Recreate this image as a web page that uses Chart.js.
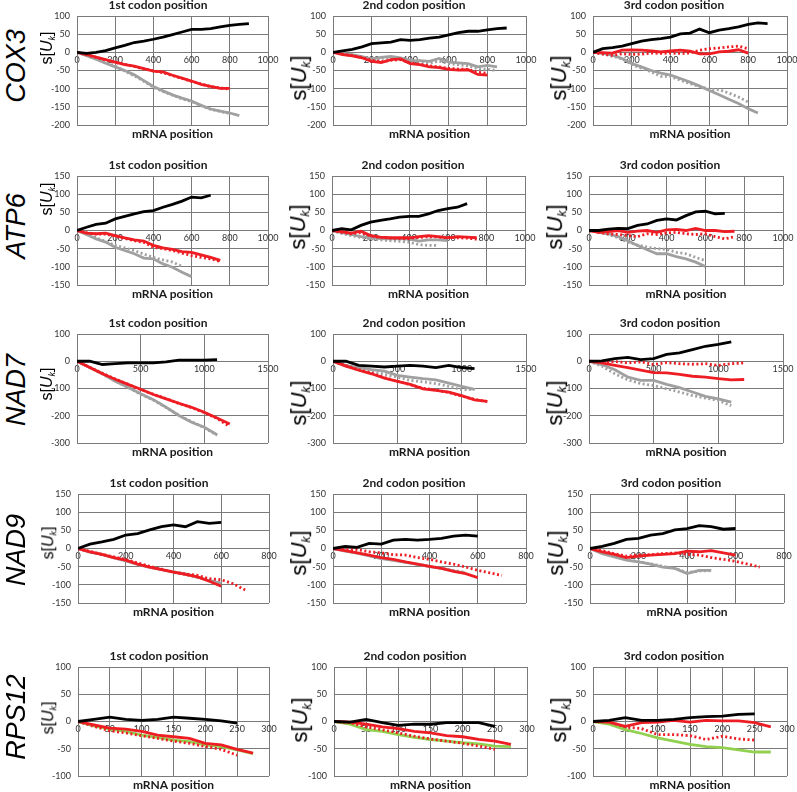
<!DOCTYPE html>
<html>
<head>
<meta charset="utf-8">
<script src="https://cdn.jsdelivr.net/npm/chart.js@4.4.1/dist/chart.umd.min.js"></script>
<style>
  body { margin: 0; background: #fff; width: 797px; height: 792px; position: relative; overflow: hidden; }
  canvas { position: absolute; }
  .gene { position: absolute; font-family: "Liberation Sans", sans-serif; font-style: italic; font-size: 27px; color: #000;
          transform: translate(-50%, -50%) rotate(-90deg); white-space: nowrap; }
  .yt { position: absolute; font-family: "Liberation Sans", sans-serif; color: #000;
        transform: translate(-50%, -50%) rotate(-90deg); white-space: nowrap; line-height: 1; }
  .yt i { font-style: italic; }
  .yt sub { font-size: 55%; font-style: italic; vertical-align: -0.3em; }
  .ttl { position: absolute; font-family: Lato, "Liberation Sans", sans-serif; font-weight: bold; font-size: 12px; color: #1a1a1a;
         transform: translate(-50%, -50%); white-space: nowrap; line-height: 1; }
</style>
</head>
<body>
<script>
// ---- labels ----
const genes = ['COX3', 'ATP6', 'NAD7', 'NAD9', 'RPS12'];
const codonTitles = ['1st codon position', '2nd codon position', '3rd codon position'];
const xLabel = 'mRNA position';

// ---- axis ranges per gene (x max / step, y min / max / step) ----
const xMax = [1000, 1000, 1500, 800, 300];
const xStep = [200, 200, 500, 200, 50];
const yMin = [-200, -150, -300, -150, -100];
const yMax = [100, 150, 100, 150, 100];
const yStep = [50, 50, 100, 50, 50];

// ---- COX3 ----
const cox3X = [0, 50, 100, 150, 200, 250, 300, 350, 400, 450, 500, 550, 600, 650, 700, 750, 800, 850, 900];
const cox3_1_black = [0, -3, 0, 5, 12, 19, 27, 31, 36, 42, 49, 56, 63, 63, 65, 70, 74, 77, 79];
const cox3_1_red = [0, -6, -13, -20, -27, -34, -38, -45, -52, -54, -63, -71, -79, -88, -94, -99, -99];
const cox3_1_redDot = [0, -7, -14, -21, -28, -33, -39, -46, -51, -56, -64, -72, -80, -87, -95, -98, -101];
const cox3_1_gray = [0, -9, -19, -30, -40, -50, -62, -78, -94, -106, -117, -126, -134, -146, -156, -162, -167, -174];
const cox3_1_grayDot = [0, -8, -18, -28, -38, -52, -65, -80, -96, -108, -118, -128, -136, -147, -157, -163, -168];
const cox3_2_black = [0, 4, 8, 15, 24, 26, 28, 35, 33, 35, 39, 42, 48, 54, 58, 58, 62, 65, 67];
const cox3_2_red = [0, -6, -10, -15, -25, -28, -20, -18, -31, -34, -40, -42, -47, -49, -48, -61, -63];
const cox3_2_redDot = [0, -5, -9, -14, -22, -26, -22, -20, -29, -33, -37, -40, -44, -46, -47, -55, -58];
const cox3_2_gray = [0, -3, -6, -12, -18, -14, -11, -15, -22, -23, -25, -17, -27, -29, -31, -40, -36, -40];
const cox3_2_grayDot = [0, -4, -8, -14, -20, -17, -14, -18, -24, -27, -30, -24, -31, -34, -37, -45, -47, -50];
const cox3_3_black = [0, 10, 13, 17, 24, 31, 35, 38, 42, 51, 53, 64, 54, 61, 65, 70, 77, 81, 79];
const cox3_3_red = [0, -1, -2, 6, 7, 6, 4, 1, 4, 6, 3, -4, -4, 1, 3, 7, -2];
const cox3_3_redDot = [0, -5, -8, -4, -6, -5, -2, -3, -2, -3, -2, 6, 10, 12, 15, 17, 10];
const cox3_3_gray = [0, -3, -8, -17, -31, -40, -50, -57, -63, -72, -82, -93, -105, -117, -129, -141, -155, -167];
const cox3_3_grayDot = [0, -4, -11, -18, -33, -44, -54, -66, -66, -77, -86, -94, -102, -103, -112, -123, -137];

// ---- ATP6 ----
const atp6X = [0, 50, 100, 150, 200, 250, 300, 350, 400, 450, 500, 550, 600, 650, 700, 750];
const atp6_1_black = [0, 9, 17, 20, 32, 39, 46, 52, 55, 64, 72, 81, 92, 90, 97];
const atp6_1_red = [0, -7, -9, -7, -14, -20, -26, -29, -41, -48, -52, -58, -60, -67, -74, -82];
const atp6_1_redDot = [0, -6, -10, -10, -16, -22, -28, -33, -46, -50, -55, -62, -69, -74, -78, -85];
const atp6_1_gray = [0, -11, -23, -32, -46, -55, -64, -76, -78, -92, -101, -115, -127];
const atp6_1_grayDot = [0, -10, -20, -30, -41, -48, -55, -65, -74, -81, -87, -99];
const atp6_2_black = [0, 5, 2, 14, 23, 28, 32, 37, 39, 39, 46, 55, 60, 64, 74];
const atp6_2_red = [0, -3, -7, -2, -14, -18, -20, -20, -20, -17, -14, -17, -20, -17, -18, -20];
const atp6_2_redDot = [0, -5, -9, -6, -15, -19, -21, -22, -22, -19, -17, -18, -19, -20, -21, -24];
const atp6_2_gray = [0, -6, -11, -17, -20, -22, -23, -23, -23, -29, -26, -26, -28];
const atp6_2_grayDot = [0, -8, -14, -19, -23, -26, -28, -30, -32, -39, -41, -41];
const atp6_3_black = [0, 0, 4, 6, 5, 14, 18, 28, 32, 29, 41, 51, 53, 46, 47];
const atp6_3_red = [0, -5, -3, 0, -5, -2, 0, -5, 2, 3, 0, 6, 0, 0, -3, -2];
const atp6_3_redDot = [0, -5, -9, -11, -14, -17, -9, -11, -7, -5, -9, -11, -9, -17, -23, -17];
const atp6_3_gray = [0, -5, -9, -17, -28, -41, -53, -64, -64, -72, -78, -87, -99];
const atp6_3_grayDot = [0, -5, -11, -20, -32, -40, -46, -50, -52, -60, -64, -74, -83];

// ---- NAD7 ----
const nad7X = [0, 100, 200, 300, 400, 500, 600, 700, 800, 900, 1000, 1100, 1200];
const nad7_1_black = [0, 0, -12, -9, -6, -6, -6, -2, 4, 4, 4, 6];
const nad7_1_red = [0, -23, -46, -66, -85, -103, -122, -138, -154, -169, -187, -208, -230];
const nad7_1_redDot = [0, -22, -44, -65, -84, -104, -121, -137, -155, -170, -189, -210, -240];
const nad7_1_gray = [0, -23, -46, -73, -95, -119, -141, -169, -199, -224, -242, -270];
const nad7_1_grayDot = [0, -22, -47, -72, -96, -121, -143, -170, -198, -222, -244, -272];
const nad7_2_black = [0, 0, -15, -18, -21, -18, -15, -18, -23, -15, -23, -27];
const nad7_2_red = [0, -18, -33, -46, -62, -74, -85, -101, -107, -113, -126, -142, -147];
const nad7_2_redDot = [0, -16, -31, -44, -60, -73, -86, -99, -106, -115, -128, -140, -148];
const nad7_2_gray = [0, -15, -23, -31, -36, -52, -58, -64, -68, -80, -92, -103];
const nad7_2_grayDot = [0, -18, -27, -36, -48, -58, -70, -76, -82, -92, -105, -103];
const nad7_3_black = [0, 1, 10, 14, 6, 10, 25, 31, 43, 55, 62, 71];
const nad7_3_red = [0, -6, -15, -23, -33, -42, -43, -48, -55, -58, -64, -68, -67];
const nad7_3_redDot = [0, -2, -1, -6, -2, -12, -5, -9, -11, -9, -15, -9, -6];
const nad7_3_gray = [0, -12, -31, -58, -70, -70, -85, -97, -113, -129, -138, -150];
const nad7_3_grayDot = [0, -18, -46, -68, -82, -89, -101, -113, -126, -135, -144, -163];

// ---- NAD9 ----
const nad9X = [0, 50, 100, 150, 200, 250, 300, 350, 400, 450, 500, 550, 600, 650, 700];
const nad9_1_black = [0, 12, 18, 25, 37, 41, 51, 60, 65, 60, 74, 69, 72];
const nad9_1_red = [0, -9, -16, -25, -32, -43, -51, -58, -65, -71, -78, -90, -104];
const nad9_1_redDot = [0, -8, -16, -23, -30, -40, -49, -57, -65, -70, -74, -83, -86, -97, -114];
const nad9_1_gray = [0, -10, -16, -26, -34, -44, -52, -58, -64, -70, -78, -88, -96];
const nad9_1_grayDot = [0, -9, -17, -25, -33, -42, -50, -57, -66, -72, -80, -86, -95];
const nad9_2_black = [0, 6, 3, 14, 12, 23, 25, 23, 25, 28, 34, 37, 34];
const nad9_2_red = [0, -6, -12, -18, -25, -30, -37, -43, -49, -55, -63, -69, -80];
const nad9_2_redDot = [0, -3, -3, -9, -12, -17, -18, -25, -30, -37, -43, -51, -60, -67, -74];
const nad9_2_gray = [0, -7, -13, -20, -28, -33, -38, -44, -50, -55, -62, -68];
const nad9_2_grayDot = [0, -6, -12, -19, -27, -32, -37, -43, -49, -54, -60, -66];
const nad9_3_black = [0, 6, 14, 25, 28, 37, 41, 51, 55, 63, 60, 53, 55];
const nad9_3_red = [0, -9, -16, -25, -21, -18, -16, -14, -7, -9, -6, -12, -18];
const nad9_3_redDot = [0, -6, -14, -21, -18, -17, -14, -12, -16, -18, -25, -30, -35, -43, -51];
const nad9_3_gray = [0, -14, -23, -32, -37, -43, -51, -55, -69, -60, -60];
const nad9_3_grayDot = [0, -12, -21, -30, -36, -42, -49, -54, -66, -62, -61];

// ---- RPS12 ----
const rps12X = [0, 25, 50, 75, 100, 125, 150, 175, 200, 225, 250, 275];
const rps12_1_black = [0, 4, 8, 4, 2, 4, 8, 6, 4, 1, -3];
const rps12_1_red = [0, -6, -12, -14, -18, -25, -28, -31, -40, -43, -51, -58];
const rps12_1_redDot = [0, -9, -17, -21, -26, -31, -36, -40, -46, -51, -62];
const rps12_1_green = [0, -8, -14, -18, -25, -29, -34, -37, -43, -46, -52, -59];
const rps12_2_black = [0, -1, 4, -2, -7, -5, -5, -2, -2, -2, -9];
const rps12_2_red = [0, -1, -5, -10, -13, -18, -21, -26, -28, -33, -36, -42];
const rps12_2_redDot = [0, -2, -10, -15, -21, -27, -32, -36, -40, -45, -51];
const rps12_2_green = [0, -5, -15, -18, -24, -29, -33, -36, -39, -41, -45, -46];
const rps12_3_black = [0, 2, 7, 2, 2, 4, 7, 9, 10, 13, 14];
const rps12_3_red = [0, -1, -9, -2, -1, 2, -1, 2, 1, 1, -2, -10];
const rps12_3_redDot = [0, -1, -10, -13, -24, -24, -26, -33, -27, -32, -34];
const rps12_3_green = [0, -5, -15, -22, -30, -36, -42, -46, -48, -52, -56, -56];

// panels: [gene row][codon column]
const panels = [
  [
    { xs: cox3X, black: cox3_1_black, red: cox3_1_red, redDot: cox3_1_redDot, gray: cox3_1_gray, grayDot: cox3_1_grayDot },
    { xs: cox3X, black: cox3_2_black, red: cox3_2_red, redDot: cox3_2_redDot, gray: cox3_2_gray, grayDot: cox3_2_grayDot },
    { xs: cox3X, black: cox3_3_black, red: cox3_3_red, redDot: cox3_3_redDot, gray: cox3_3_gray, grayDot: cox3_3_grayDot }
  ],
  [
    { xs: atp6X, black: atp6_1_black, red: atp6_1_red, redDot: atp6_1_redDot, gray: atp6_1_gray, grayDot: atp6_1_grayDot },
    { xs: atp6X, black: atp6_2_black, red: atp6_2_red, redDot: atp6_2_redDot, gray: atp6_2_gray, grayDot: atp6_2_grayDot },
    { xs: atp6X, black: atp6_3_black, red: atp6_3_red, redDot: atp6_3_redDot, gray: atp6_3_gray, grayDot: atp6_3_grayDot }
  ],
  [
    { xs: nad7X, black: nad7_1_black, red: nad7_1_red, redDot: nad7_1_redDot, gray: nad7_1_gray, grayDot: nad7_1_grayDot },
    { xs: nad7X, black: nad7_2_black, red: nad7_2_red, redDot: nad7_2_redDot, gray: nad7_2_gray, grayDot: nad7_2_grayDot },
    { xs: nad7X, black: nad7_3_black, red: nad7_3_red, redDot: nad7_3_redDot, gray: nad7_3_gray, grayDot: nad7_3_grayDot }
  ],
  [
    { xs: nad9X, black: nad9_1_black, red: nad9_1_red, redDot: nad9_1_redDot, gray: nad9_1_gray, grayDot: nad9_1_grayDot },
    { xs: nad9X, black: nad9_2_black, red: nad9_2_red, redDot: nad9_2_redDot, gray: nad9_2_gray, grayDot: nad9_2_grayDot },
    { xs: nad9X, black: nad9_3_black, red: nad9_3_red, redDot: nad9_3_redDot, gray: nad9_3_gray, grayDot: nad9_3_grayDot }
  ],
  [
    { xs: rps12X, black: rps12_1_black, red: rps12_1_red, redDot: rps12_1_redDot, green: rps12_1_green },
    { xs: rps12X, black: rps12_2_black, red: rps12_2_red, redDot: rps12_2_redDot, green: rps12_2_green },
    { xs: rps12X, black: rps12_3_black, red: rps12_3_red, redDot: rps12_3_redDot, green: rps12_3_green }
  ]
];

// ---- layout (pixels) ----
const plotLeft = [[77, 333, 593], [77, 332, 589], [77, 333, 589], [78, 333, 590], [78, 334, 593]];
const plotWidth = [191, 193, 194];
const plotTop = [16, 176, 334, 494, 667];
const plotHeight = 109;
const axisW = 40;      // room for y tick labels
const padV = 13;       // >= half tick label + tick padding, so chart area starts exactly here
const padRight = 14;
const ytOffset = [[32, 62, 62], [23, 51, 51], [50, 69, 69], [49, 59, 59], [51, 53, 53]];
const geneCenterY = [66, 226, 390, 550, 717];

const GRID = '#7a7a7a';
const tickFont = { family: 'Lato, "Liberation Sans", sans-serif', size: 9 };

function pts(xs, ys) {
  return ys.map((y, i) => ({ x: xs[i], y: y }));
}

function line(data, color, dashed) {
  return {
    data: data,
    borderColor: color,
    backgroundColor: color,
    borderWidth: 2.8,
    borderDash: dashed ? [2, 2.5] : [],
    pointRadius: 0,
    tension: 0,
    fill: false
  };
}

function addText(cls, html, x, y, size) {
  const d = document.createElement('div');
  d.className = cls;
  d.innerHTML = html;
  d.style.left = x + 'px';
  d.style.top = y + 'px';
  if (size) d.style.fontSize = size + 'px';
  document.body.appendChild(d);
}

genes.forEach(function (gene, r) {
  addText('gene', gene, 16, geneCenterY[r]);

  for (let c = 0; c < 3; c++) {
    const p = panels[r][c];
    const left = plotLeft[r][c];
    const pw = plotWidth[c];

    const cv = document.createElement('canvas');
    cv.width = axisW + pw + padRight;
    cv.height = padV + plotHeight + padV;
    cv.style.left = (left - axisW) + 'px';
    cv.style.top = (plotTop[r] - padV) + 'px';
    document.body.appendChild(cv);

    addText('ttl', codonTitles[c], left + 81, plotTop[r] - 11);
    addText('ttl', xLabel, left + pw / 2, plotTop[r] + plotHeight + 9);
    addText('yt', 's[<i>U</i><sub>k</sub>]', left - (c === 0 ? 29 : 33), plotTop[r] + ytOffset[r][c], c === 0 ? 16 : 22);

    // first dataset is drawn on top
    const datasets = [line(pts(p.xs, p.black), '#000000', false)];
    datasets.push(line(pts(p.xs, p.red), '#ee1d23', false));
    datasets.push(line(pts(p.xs, p.redDot), '#ee1d23', true));
    if (p.green) datasets.push(line(pts(p.xs, p.green), '#92d050', false));
    if (p.gray) {
      datasets.push(line(pts(p.xs, p.gray), '#a0a0a0', false));
      datasets.push(line(pts(p.xs, p.grayDot), '#a0a0a0', true));
    }

    new Chart(cv.getContext('2d'), {
      type: 'line',
      data: { datasets: datasets },
      options: {
        responsive: false,
        animation: false,
        layout: { autoPadding: false, padding: { left: 0, right: padRight, top: padV, bottom: padV } },
        plugins: {
          legend: { display: false },
          tooltip: { enabled: false }
        },
        scales: {
          x: {
            type: 'linear',
            position: { y: 0 },
            min: 0, max: xMax[r],
            grid: { color: GRID, lineWidth: 1, drawTicks: false },
            border: { display: false },
            ticks: {
              stepSize: xStep[r], color: '#333', font: tickFont, padding: 2,
              maxRotation: 0, autoSkip: false,
              callback: function (v) { return String(v); }
            }
          },
          y: {
            type: 'linear',
            min: yMin[r], max: yMax[r],
            afterFit: function (scale) { scale.width = axisW; },
            grid: { color: GRID, lineWidth: 1, drawTicks: false },
            border: { display: true, color: GRID },
            ticks: {
              stepSize: yStep[r], color: '#333', font: tickFont, padding: 7,
              callback: function (v) { return String(v); }
            }
          }
        }
      }
    });
  }
});
</script>
</body>
</html>
